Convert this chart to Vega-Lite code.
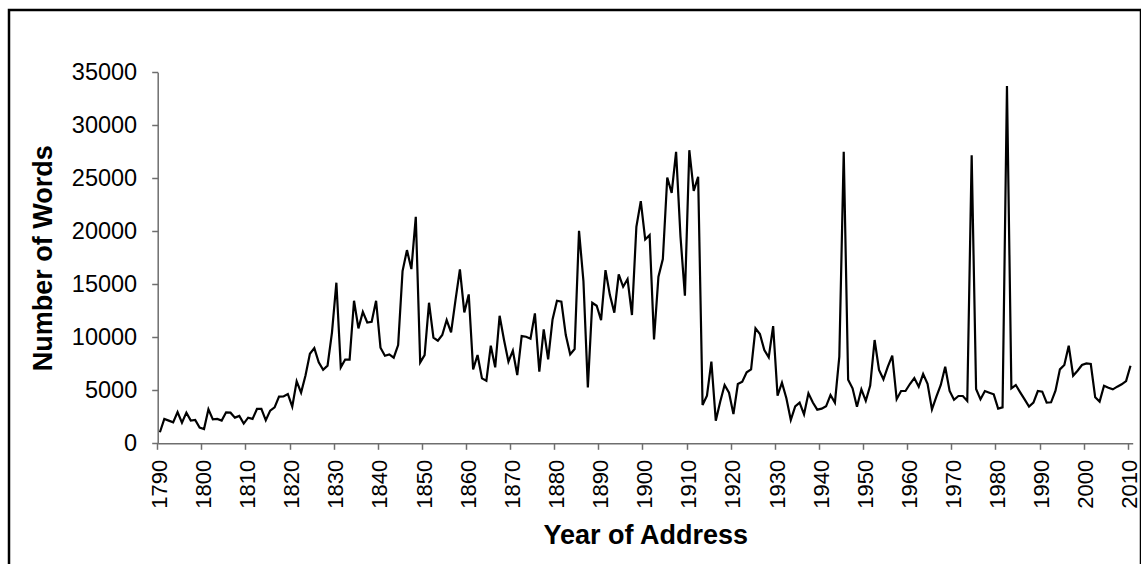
{
  "$schema": "https://vega.github.io/schema/vega-lite/v6.json",
  "width": 1132,
  "height": 560,
  "autosize": {"type": "none"},
  "padding": {"left": 9, "top": 10, "right": 0, "bottom": 0},
  "background": "white",
  "config": {
    "view": {"stroke": "black", "strokeWidth": 2.5},
    "font": "Liberation Sans",
    "axis": {
      "domainColor": "#6e6e6e",
      "domainWidth": 1.5,
      "tickColor": "#6e6e6e",
      "tickWidth": 1.5,
      "tickSize": 6,
      "grid": false,
      "labelFont": "Liberation Sans",
      "labelFontSize": 23.5,
      "labelColor": "black",
      "titleFont": "Liberation Sans",
      "titleFontSize": 27,
      "titleFontWeight": "bold",
      "titleColor": "black"
    }
  },
  "data": {"values": [
    {"year":1790,"words":1040},{"year":1791,"words":2295},{"year":1792,"words":2140},{"year":1793,"words":1980},{"year":1794,"words":2950},
    {"year":1795,"words":1950},{"year":1796,"words":2890},{"year":1797,"words":2140},{"year":1798,"words":2200},{"year":1799,"words":1480},
    {"year":1800,"words":1350},{"year":1801,"words":3210},{"year":1802,"words":2260},{"year":1803,"words":2300},{"year":1804,"words":2140},
    {"year":1805,"words":2920},{"year":1806,"words":2890},{"year":1807,"words":2420},{"year":1808,"words":2580},{"year":1809,"words":1860},
    {"year":1810,"words":2420},{"year":1811,"words":2300},{"year":1812,"words":3240},{"year":1813,"words":3240},{"year":1814,"words":2170},
    {"year":1815,"words":3080},{"year":1816,"words":3390},{"year":1817,"words":4400},{"year":1818,"words":4420},{"year":1819,"words":4650},
    {"year":1820,"words":3460},{"year":1821,"words":5840},{"year":1822,"words":4780},{"year":1823,"words":6400},{"year":1824,"words":8450},
    {"year":1825,"words":8980},{"year":1826,"words":7650},{"year":1827,"words":6940},{"year":1828,"words":7330},{"year":1829,"words":10450},
    {"year":1830,"words":15150},{"year":1831,"words":7165},{"year":1832,"words":7900},{"year":1833,"words":7900},{"year":1834,"words":13450},
    {"year":1835,"words":10840},{"year":1836,"words":12400},{"year":1837,"words":11400},{"year":1838,"words":11470},{"year":1839,"words":13450},
    {"year":1840,"words":9020},{"year":1841,"words":8265},{"year":1842,"words":8390},{"year":1843,"words":8080},{"year":1844,"words":9270},
    {"year":1845,"words":16245},{"year":1846,"words":18225},{"year":1847,"words":16434},{"year":1848,"words":21367},{"year":1849,"words":7636},
    {"year":1850,"words":8327},{"year":1851,"words":13260},{"year":1852,"words":9962},{"year":1853,"words":9679},{"year":1854,"words":10213},
    {"year":1855,"words":11627},{"year":1856,"words":10464},{"year":1857,"words":13512},{"year":1858,"words":16403},{"year":1859,"words":12349},
    {"year":1860,"words":14046},{"year":1861,"words":6976},{"year":1862,"words":8327},{"year":1863,"words":6127},{"year":1864,"words":5908},
    {"year":1865,"words":9207},{"year":1866,"words":7165},{"year":1867,"words":12035},{"year":1868,"words":9742},{"year":1869,"words":7699},
    {"year":1870,"words":8736},{"year":1871,"words":6442},{"year":1872,"words":10119},{"year":1873,"words":10056},{"year":1874,"words":9868},
    {"year":1875,"words":12255},{"year":1876,"words":6757},{"year":1877,"words":10747},{"year":1878,"words":7919},{"year":1879,"words":11690},
    {"year":1880,"words":13449},{"year":1881,"words":13355},{"year":1882,"words":10213},{"year":1883,"words":8390},{"year":1884,"words":8893},
    {"year":1885,"words":20047},{"year":1886,"words":15300},{"year":1887,"words":5280},{"year":1888,"words":13260},{"year":1889,"words":12977},
    {"year":1890,"words":11627},{"year":1891,"words":16340},{"year":1892,"words":13983},{"year":1893,"words":12318},{"year":1894,"words":15931},
    {"year":1895,"words":14769},{"year":1896,"words":15491},{"year":1897,"words":12098},{"year":1898,"words":20424},{"year":1899,"words":22843},
    {"year":1900,"words":19230},{"year":1901,"words":19639},{"year":1902,"words":9804},{"year":1903,"words":15711},{"year":1904,"words":17377},
    {"year":1905,"words":25074},{"year":1906,"words":23629},{"year":1907,"words":27494},{"year":1908,"words":19500},{"year":1909,"words":13920},
    {"year":1910,"words":27651},{"year":1911,"words":23817},{"year":1912,"words":25137},{"year":1913,"words":3615},{"year":1914,"words":4494},
    {"year":1915,"words":7699},{"year":1916,"words":2138},{"year":1917,"words":3928},{"year":1918,"words":5499},{"year":1919,"words":4777},
    {"year":1920,"words":2750},{"year":1921,"words":5594},{"year":1922,"words":5814},{"year":1923,"words":6694},{"year":1924,"words":6976},
    {"year":1925,"words":10841},{"year":1926,"words":10307},{"year":1927,"words":8799},{"year":1928,"words":8108},{"year":1929,"words":11061},
    {"year":1930,"words":4494},{"year":1931,"words":5719},{"year":1932,"words":4243},{"year":1933,"words":2200},{"year":1934,"words":3490},
    {"year":1935,"words":3835},{"year":1936,"words":2735},{"year":1937,"words":4714},{"year":1938,"words":3850},{"year":1939,"words":3175},
    {"year":1940,"words":3270},{"year":1941,"words":3490},{"year":1942,"words":4557},{"year":1943,"words":3835},{"year":1944,"words":8170},
    {"year":1945,"words":27494},{"year":1946,"words":6000},{"year":1947,"words":5185},{"year":1948,"words":3457},{"year":1949,"words":5091},
    {"year":1950,"words":4000},{"year":1951,"words":5450},{"year":1952,"words":9742},{"year":1953,"words":6913},{"year":1954,"words":6034},
    {"year":1955,"words":7228},{"year":1956,"words":8265},{"year":1957,"words":4165},{"year":1958,"words":4934},{"year":1959,"words":4934},
    {"year":1960,"words":5594},{"year":1961,"words":6160},{"year":1962,"words":5342},{"year":1963,"words":6536},{"year":1964,"words":5620},
    {"year":1965,"words":3206},{"year":1966,"words":4400},{"year":1967,"words":5500},{"year":1968,"words":7228},{"year":1969,"words":4934},
    {"year":1970,"words":4110},{"year":1971,"words":4462},{"year":1972,"words":4462},{"year":1973,"words":3990},{"year":1974,"words":27179},
    {"year":1975,"words":5122},{"year":1976,"words":4149},{"year":1977,"words":4934},{"year":1978,"words":4777},{"year":1979,"words":4620},
    {"year":1980,"words":3269},{"year":1981,"words":3394},{"year":1982,"words":33715},{"year":1983,"words":5185},{"year":1984,"words":5500},
    {"year":1985,"words":4808},{"year":1986,"words":4149},{"year":1987,"words":3457},{"year":1988,"words":3835},{"year":1989,"words":4934},
    {"year":1990,"words":4871},{"year":1991,"words":3835},{"year":1992,"words":3866},{"year":1993,"words":4965},{"year":1994,"words":6976},
    {"year":1995,"words":7385},{"year":1996,"words":9207},{"year":1997,"words":6379},{"year":1998,"words":6850},{"year":1999,"words":7385},
    {"year":2000,"words":7542},{"year":2001,"words":7479},{"year":2002,"words":4337},{"year":2003,"words":3929},{"year":2004,"words":5437},
    {"year":2005,"words":5248},{"year":2006,"words":5091},{"year":2007,"words":5342},{"year":2008,"words":5562},{"year":2009,"words":5877},
    {"year":2010,"words":7322}
  ]},
  "mark": {"type": "line", "color": "black", "strokeWidth": 2.2, "clip": false},
  "encoding": {
    "x": {
      "field": "year",
      "type": "ordinal",
      "scale": {"type": "band", "range": [148.7, 1123.7], "paddingInner": 0, "paddingOuter": 0},
      "axis": {
        "values": [1790,1800,1810,1820,1830,1840,1850,1860,1870,1880,1890,1900,1910,1920,1930,1940,1950,1960,1970,1980,1990,2000,2010],
        "bandPosition": 0,
        "labelAngle": -90,
        "labelPadding": 10,
        "labelFontSize": 22,
        "offset": -126.7,
        "title": "Year of Address",
        "titlePadding": 14
      }
    },
    "y": {
      "field": "words",
      "type": "quantitative",
      "scale": {"domain": [0, 35000], "range": [433.3, 62.3], "nice": false, "zero": true},
      "axis": {
        "values": [0,5000,10000,15000,20000,25000,30000,35000],
        "format": "d",
        "offset": -148.7,
        "labelPadding": 15,
        "title": "Number of Words",
        "titlePadding": 14
      }
    }
  }
}
